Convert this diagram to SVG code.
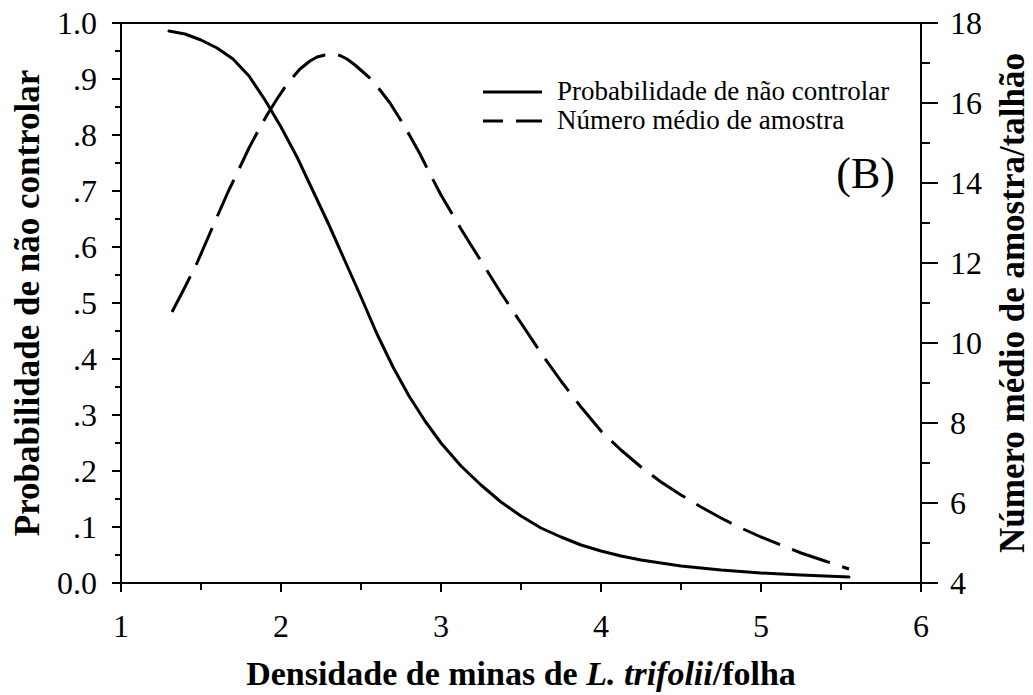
<svg xmlns="http://www.w3.org/2000/svg" width="1033" height="695" viewBox="0 0 1033 695">
<style>
.ax{stroke:#000;stroke-width:2;fill:none}
.tk{stroke:#000;stroke-width:2}
.lbl{font-family:"Liberation Serif","Times New Roman",serif;font-size:32px;fill:#000}
.ttl{font-family:"Liberation Serif","Times New Roman",serif;font-size:35px;font-weight:bold;fill:#000}
.leg{font-family:"Liberation Serif","Times New Roman",serif;font-size:27px;fill:#000}
.solid{stroke:#000;stroke-width:3;fill:none;stroke-linejoin:round;stroke-linecap:round}
.dash{stroke:#000;stroke-width:3;fill:none;stroke-dasharray:40 13;stroke-linejoin:round}
</style>
<rect width="1033" height="695" fill="#fff"/>
<g id="axes">
<path class="ax" d="M121,23 H921 V583 H121 Z"/>
<g id="left-ticks">
<path class="tk" d="M112,583H121M112,527H121M112,471H121M112,415H121M112,359H121M112,303H121M112,247H121M112,191H121M112,135H121M112,79H121M112,23H121"/>
<path class="tk" d="M115,555H121M115,499H121M115,443H121M115,387H121M115,331H121M115,275H121M115,219H121M115,163H121M115,107H121M115,51H121"/>
</g>
<g id="right-ticks">
<path class="tk" d="M921,583H938M921,503H938M921,423H938M921,343H938M921,263H938M921,183H938M921,103H938M921,23H938"/>
<path class="tk" d="M921,543H930M921,463H930M921,383H930M921,303H930M921,223H930M921,143H930M921,63H930"/>
</g>
<g id="bottom-ticks">
<path class="tk" d="M121,583V592M281,583V592M441,583V592M601,583V592M761,583V592M921,583V592"/>
<path class="tk" d="M201,583V590M361,583V590M521,583V590M681,583V590M841,583V590"/>
</g>
</g>
<g id="left-labels" class="lbl" text-anchor="end">
<text x="97" y="594">0.0</text>
<text x="97" y="538">.1</text>
<text x="97" y="482">.2</text>
<text x="97" y="426">.3</text>
<text x="97" y="370">.4</text>
<text x="97" y="314">.5</text>
<text x="97" y="258">.6</text>
<text x="97" y="202">.7</text>
<text x="97" y="146">.8</text>
<text x="97" y="90">.9</text>
<text x="97" y="34">1.0</text>
</g>
<g id="right-labels" class="lbl">
<text x="950" y="594">4</text>
<text x="950" y="514">6</text>
<text x="950" y="434">8</text>
<text x="950" y="354">10</text>
<text x="950" y="274">12</text>
<text x="950" y="194">14</text>
<text x="950" y="114">16</text>
<text x="950" y="34">18</text>
</g>
<g id="bottom-labels" class="lbl" text-anchor="middle">
<text x="121" y="637">1</text>
<text x="281" y="637">2</text>
<text x="441" y="637">3</text>
<text x="601" y="637">4</text>
<text x="761" y="637">5</text>
<text x="921" y="637">6</text>
</g>
<g id="titles">
<text class="ttl" x="521" y="685" text-anchor="middle" style="font-size:34px">Densidade de minas de <tspan font-style="italic">L. trifolii</tspan>/folha</text>
<text class="ttl" transform="translate(39,303) rotate(-90)" text-anchor="middle">Probabilidade de não controlar</text>
<text class="ttl" transform="translate(1024,303) rotate(-90)" text-anchor="middle">Número médio de amostra/talhão</text>
</g>
<g id="curves">
<polyline class="solid" points="169,31 185,34 201,40 217,48 233,59 249,76 265,100 281,127 297,157 313,191 329,225 345,261 361,297 377,334 393,367 409,396 425,421 441,443 461,466 481,485 501,502 521,516 541,528 561,537 581,545 601,551 621,556 641,560 661,563 681,566 721,570 761,573 801,575 849,577"/>
<polyline class="dash" points="172,312 185,287 197,263 207,240 217,217 228,192 240,167 249,148 257,133 267,115 277,99 287,84 300,69 310,61 317,57 325,55 333,54 340,55.5 347,59 355,65 363,72 372,80 380,90 390,103 400,119 410,136 420,154 430,174 441,195 461,229 481,261 501,293 521,323 541,353 561,381 581,407 601,431 621,450 641,467 661,482 681,495 701,507 721,518 741,528 761,537 781,545 801,553 825,561 849,569"/>
</g>
<g id="legend">
<line class="solid" x1="483" y1="92" x2="542" y2="92" style="stroke-linecap:butt"/>
<text class="leg" x="557" y="100">Probabilidade de não controlar</text>
<line class="dash" x1="483" y1="121" x2="542" y2="121" style="stroke-dashoffset:20"/>
<text class="leg" x="557" y="129">Número médio de amostra</text>
</g>
<text id="panel-label" x="895" y="188" text-anchor="end" style="font-family:'Liberation Serif','Times New Roman',serif;font-size:44px">(B)</text>
</svg>
